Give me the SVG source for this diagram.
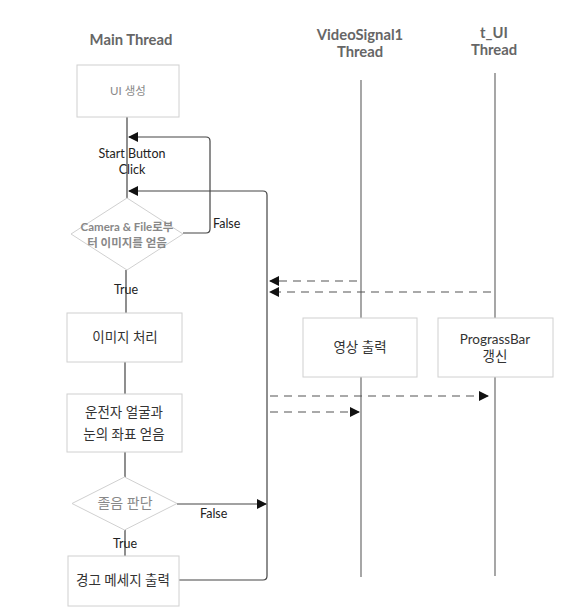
<svg xmlns="http://www.w3.org/2000/svg" width="569" height="614" viewBox="0 0 569 614">
<defs>
<marker id="ah" viewBox="0 0 10 10" refX="9" refY="5" markerWidth="10" markerHeight="10" markerUnits="userSpaceOnUse" orient="auto">
<path d="M0,0 L10,5 L0,10 z" fill="#111"/>
</marker>
<style>
.title{font-family:Lato,"Liberation Sans","Noto Sans CJK KR",sans-serif;font-size:14.8px;font-weight:bold;fill:#666;text-anchor:middle}
.lbl{font-family:Lato,"Liberation Sans","Noto Sans CJK KR",sans-serif;font-size:12.5px;fill:#222;text-anchor:middle}
.lblL{font-family:Lato,"Liberation Sans","Noto Sans CJK KR",sans-serif;font-size:12.5px;fill:#222}
.txt{font-family:Lato,"Noto Sans CJK KR",sans-serif;font-size:13.5px;fill:#333;text-anchor:middle}
.box{fill:#fff;stroke:#d0d0d0;stroke-width:1}
.dia{fill:#fff;stroke:#d0d0d0;stroke-width:1}
.ln{fill:none;stroke:#444;stroke-width:1.2}
.life{fill:none;stroke:#777;stroke-width:1.3}
.dash{fill:none;stroke:#555;stroke-width:1.2;stroke-dasharray:8,6}
</style>
</defs>
<rect width="569" height="614" fill="#fff"/>
<g id="titles">
<text class="title" x="131" y="45">Main Thread</text>
<text class="title" x="360" y="40">VideoSignal1</text>
<text class="title" x="360" y="57">Thread</text>
<text class="title" x="494" y="38">t_UI</text>
<text class="title" x="494" y="55">Thread</text>
</g>
<g id="connectors">
<line class="ln" x1="127" y1="117" x2="127" y2="198"/>
<line class="ln" x1="126" y1="270" x2="126" y2="313"/>
<line class="ln" x1="125" y1="362" x2="125" y2="394"/>
<line class="ln" x1="125" y1="452" x2="125" y2="477"/>
<line class="ln" x1="125" y1="530" x2="125" y2="556"/>
<path class="ln" d="M183,233 H206 Q210,233 210,229 V141 Q210,137 206,137 H129" marker-end="url(#ah)"/>
<path class="ln" d="M179,580 H263 Q267,580 267,576 V195 Q267,191 263,191 H129" marker-end="url(#ah)"/>
<line class="ln" x1="177" y1="504" x2="266" y2="504" marker-end="url(#ah)"/>
<line class="life" x1="361" y1="80" x2="361" y2="318"/>
<line class="life" x1="361" y1="377" x2="361" y2="577"/>
<line class="life" x1="495" y1="73" x2="495" y2="318"/>
<line class="life" x1="495" y1="377" x2="495" y2="576"/>
<line class="dash" x1="357" y1="281" x2="270" y2="281" marker-end="url(#ah)"/>
<line class="dash" x1="491" y1="292" x2="270" y2="292" marker-end="url(#ah)"/>
<line class="dash" x1="270" y1="396" x2="488" y2="396" marker-end="url(#ah)"/>
<line class="dash" x1="270" y1="412" x2="359" y2="412" marker-end="url(#ah)"/>
<text class="lbl" x="132" y="158">Start Button</text>
<text class="lbl" x="132" y="174">Click</text>
<text class="lblL" x="213" y="228">False</text>
<text class="lbl" x="126" y="294">True</text>
<text class="lblL" x="200" y="518">False</text>
<text class="lbl" x="125" y="548">True</text>
</g>
<g id="n_ui">
<rect class="box" x="77" y="65" width="102" height="52"/>
<text class="txt" x="128" y="95" style="fill:#888;font-size:11.5px">UI 생성</text>
</g>
<g id="n_cam">
<polygon class="dia" points="127,198 183,234 127,270 71,234"/>
<text class="txt" x="127" y="231" style="fill:#888;font-size:11.5px;font-weight:bold">Camera &amp; File로부</text>
<text class="txt" x="127" y="247" style="fill:#888;font-size:11.5px;font-weight:bold">터 이미지를 얻음</text>
</g>
<g id="n_img">
<rect class="box" x="67" y="313" width="115" height="49"/>
<text class="txt" x="125" y="342">이미지 처리</text>
</g>
<g id="n_face">
<rect class="box" x="67" y="394" width="115" height="58"/>
<text class="txt" x="124" y="417">운전자 얼굴과</text>
<text class="txt" x="124" y="439">눈의 좌표  얻음</text>
</g>
<g id="n_drowsy">
<polygon class="dia" points="124.5,477 177,503.5 124.5,530 72,503.5"/>
<text class="txt" x="125" y="508" style="fill:#888;font-size:14px">졸음 판단</text>
</g>
<g id="n_warn">
<rect class="box" x="68" y="556" width="111" height="50"/>
<text class="txt" x="123" y="585">경고 메세지 출력</text>
</g>
<g id="n_video">
<rect class="box" x="303" y="318" width="114" height="59"/>
<text class="txt" x="360" y="352">영상 출력</text>
</g>
<g id="n_progress">
<rect class="box" x="438" y="318" width="115" height="59"/>
<text class="txt" x="495" y="344">PrograssBar</text>
<text class="txt" x="495" y="361">갱신</text>
</g>
</svg>
